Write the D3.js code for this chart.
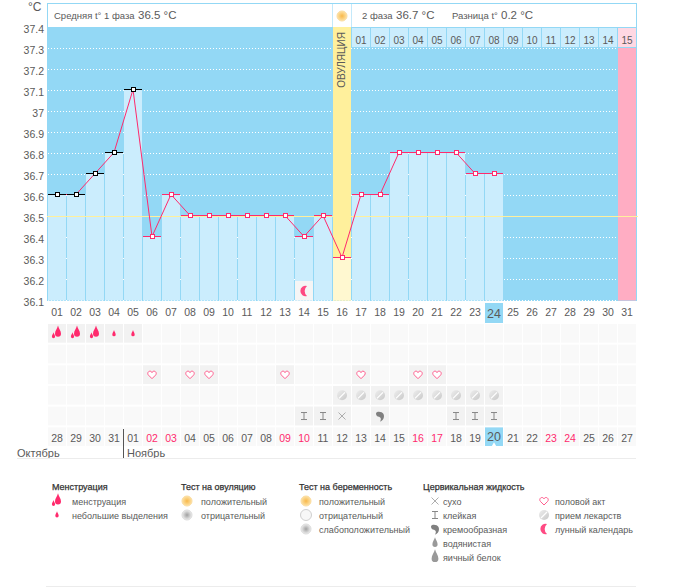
<!DOCTYPE html>
<html>
<head>
<meta charset="utf-8">
<script src="https://cdn.jsdelivr.net/npm/d3@7"></script>
<style>
  html, body { margin: 0; padding: 0; background: #fff; }
  text { font-family: "Liberation Sans", Arial, sans-serif; fill: #5a5a5a; }
</style>
</head>
<body>
<div id="chart"></div>
<script>
// chart data
const days = d3.range(1, 32);
const temps = [36.6, 36.6, 36.7, 36.8, 37.1, 36.4, 36.6, 36.5, 36.5, 36.5, 36.5, 36.5, 36.5, 36.4, 36.5, 36.3,
  36.6, 36.6, 36.8, 36.8, 36.8, 36.8, 36.7, 36.7];
const tempTicks = [37.4, 37.3, 37.2, 37.1, 37, 36.9, 36.8, 36.7, 36.6, 36.5, 36.4, 36.3, 36.2, 36.1];
const gridTicks = [37.3, 37.2, 37.1, 37, 36.9, 36.8, 36.7, 36.6, 36.4, 36.3, 36.2, 36.1];
const coverLine = 36.5;
const dateLabels = ['28', '29', '30', '31', '01', '02', '03', '04', '05', '06', '07', '08', '09', '10', '11', '12',
  '13', '14', '15', '16', '17', '18', '19', '20', '21', '22', '23', '24', '25', '26', '27'];
const weekendLabels = ['02', '03', '09', '10', '16', '17', '23', '24'];
const phaseDays = [17, 18, 19, 20, 21, 22, 23, 24, 25, 26, 27, 28, 29, 30, 31];
const phaseLabels = ['01', '02', '03', '04', '05', '06', '07', '08', '09', '10', '11', '12', '13', '14', '15'];
const blackUntil = 5, ovulationDay = 16, today = 24, moonDay = 14, periodDay = 31;

const rowNames = ['flow', 'tests', 'love', 'pills', 'fluid', 'dates'];
const heavyDays = [1, 2, 3];
const lightDays = [4, 5];
const loveDays = [6, 8, 9, 13, 17, 20, 21];
const pillDays = [16, 17, 18, 19, 20, 21, 22, 23, 24];
const stickyDays = [14, 15, 22, 23, 24];
const dryDays = [16];
const creamyDays = [18];

const colors = {
  sky: '#93d8f5', bar: '#cbedfd', pink: '#ff2a6d', period: '#ffadc3', periodTop: '#ffd8e3',
  yellow: '#fff09c', cream: '#fff8d0', cell: '#f9f9f9', cellOn: '#f2f2f2', line: '#cccccc'
};

const svg = d3.select('#chart').append('svg')
  .attr('width', 675)
  .attr('height', 587)
  .style('display', 'block');

const defs = svg.append('defs');
function radial(id, inner, outer) {
  const g = defs.append('radialGradient').attr('id', id);
  g.append('stop').attr('offset', '0%').attr('stop-color', inner);
  g.append('stop').attr('offset', '100%').attr('stop-color', outer);
}
radial('sun', '#f8b84a', '#fde3a8');
radial('grey', '#a0a0a0', '#eeeeee');
const pale = defs.append('linearGradient').attr('id', 'pale')
  .attr('x1', 0).attr('y1', 0).attr('x2', 1).attr('y2', 1);
pale.append('stop').attr('offset', '0%').attr('stop-color', '#eeeeee');
pale.append('stop').attr('offset', '100%').attr('stop-color', '#c8c8c8');

const x = d3.scaleBand().domain(days).range([48, 636]).paddingInner(1 / 19);
const y = d3.scaleLinear().domain([36.1, 37.4]).range([300.5, 27.5]);
const row = d3.scaleBand().domain(rowNames).range([324, 446]).paddingInner(0.1);
const cx = d => x(d) + x.bandwidth() / 2;
const my = v => y(v) - 1; // marks sit one pixel over the grid line

// header
svg.append('rect').attr('x', 47.5).attr('y', 3.5).attr('width', 589).attr('height', 24)
  .attr('fill', '#fff').attr('stroke', colors.sky);
svg.append('rect').attr('x', 47).attr('y', 27).attr('width', 590).attr('height', 274).attr('fill', colors.sky);
[332.5, 351.5].forEach(px => svg.append('line').attr('x1', px).attr('x2', px).attr('y1', 4).attr('y2', 27)
  .attr('stroke', '#c4e9fa'));

function headerText(px, small, bx, big) {
  svg.append('text').attr('x', px).attr('y', 19).attr('font-size', 9.5).text(small);
  svg.append('text').attr('x', bx).attr('y', 19).attr('font-size', 11.5).text(big);
}
headerText(54, 'Средняя t° 1 фаза', 138, '36.5 °C');
headerText(362, '2 фаза', 396, '36.7 °C');
headerText(452, 'Разница t°', 501, '0.2 °C');
sunIcon(svg, 342, 16);

svg.append('text').attr('x', 28).attr('y', 11).attr('font-size', 12).text('°C');

// grid
svg.append('g').selectAll('line').data(gridTicks).join('line')
  .attr('x1', 48).attr('x2', x(periodDay))
  .attr('y1', d => y(d)).attr('y2', d => y(d))
  .attr('stroke', '#fff').attr('stroke-dasharray', '1,2');

// phase cells
svg.append('g').selectAll('rect').data(phaseDays).join('rect')
  .attr('x', d => x(d)).attr('y', 28).attr('width', x.bandwidth()).attr('height', 19)
  .attr('fill', d => d === periodDay ? colors.periodTop : colors.bar);
svg.append('g').selectAll('text').data(phaseDays).join('text')
  .attr('x', d => cx(d)).attr('y', 43.5).attr('text-anchor', 'middle').attr('font-size', 10)
  .text((d, i) => phaseLabels[i]);
svg.append('rect').attr('x', x(periodDay)).attr('y', 48).attr('width', x.bandwidth()).attr('height', 252.5)
  .attr('fill', colors.period);

// bars
svg.append('rect').attr('x', x(ovulationDay)).attr('y', 27).attr('width', x.bandwidth()).attr('height', 273.5)
  .attr('fill', colors.yellow);
svg.append('g').selectAll('rect').data(temps).join('rect')
  .attr('x', (d, i) => x(days[i]))
  .attr('y', d => my(d))
  .attr('width', x.bandwidth())
  .attr('height', d => y(36.1) - my(d))
  .attr('fill', (d, i) => days[i] === ovulationDay ? colors.cream : colors.bar);

svg.append('text').attr('transform', `translate(${cx(ovulationDay) + 3},60) rotate(-90)`)
  .attr('text-anchor', 'middle').attr('font-size', 10).text('ОВУЛЯЦИЯ');

// moon cell
svg.append('rect').attr('x', x(moonDay)).attr('y', 281).attr('width', x.bandwidth()).attr('height', 19.5)
  .attr('fill', '#f5f5f5');
moonIcon(svg, cx(moonDay), 291);

// cover line
svg.append('line').attr('x1', 47).attr('x2', 638).attr('y1', y(coverLine)).attr('y2', y(coverLine))
  .attr('stroke', '#fff09c');

// temperature line and markers
svg.append('path').datum(temps)
  .attr('fill', 'none').attr('stroke', colors.pink)
  .attr('d', d3.line().x((d, i) => cx(days[i])).y(d => my(d)));
const markColor = i => days[i] <= blackUntil ? '#000' : colors.pink;
svg.append('g').selectAll('line').data(temps).join('line')
  .attr('x1', (d, i) => x(days[i])).attr('x2', (d, i) => x(days[i]) + x.bandwidth())
  .attr('y1', d => my(d)).attr('y2', d => my(d))
  .attr('stroke', (d, i) => markColor(i));
svg.append('g').selectAll('rect').data(temps).join('rect')
  .attr('x', (d, i) => Math.floor(cx(days[i])) - 2 + 0.5)
  .attr('y', d => my(d) - 2)
  .attr('width', 4).attr('height', 4)
  .attr('fill', '#fff')
  .attr('stroke', (d, i) => markColor(i));

// axes
const yAxis = svg.append('g').attr('transform', 'translate(47,0)')
  .call(d3.axisLeft(y).tickValues(tempTicks).tickSize(0).tickPadding(3).tickFormat(d => String(d)));
yAxis.select('.domain').remove();
yAxis.selectAll('text').attr('dy', '0.45em').attr('font-size', 10.5);

svg.append('rect').attr('x', x(today)).attr('y', 303).attr('width', x.bandwidth()).attr('height', 20).attr('fill', colors.sky);
const dayAxis = svg.append('g').attr('transform', 'translate(0,309)')
  .call(d3.axisBottom(x).tickSize(0).tickPadding(0).tickFormat(d => String(d).padStart(2, '0')));
dayAxis.select('.domain').remove();
dayAxis.selectAll('text').attr('font-size', d => d === today ? 12.5 : 10.5);

// rows below the chart
const rowG = svg.append('g');
rowNames.forEach(name => {
  rowG.append('g').selectAll('rect').data(days).join('rect')
    .attr('x', d => x(d)).attr('y', row(name)).attr('width', x.bandwidth()).attr('height', row.bandwidth())
    .attr('fill', colors.cell);
});
function onCells(name, list) {
  rowG.append('g').selectAll('rect').data(list).join('rect')
    .attr('x', d => x(d)).attr('y', row(name)).attr('width', x.bandwidth()).attr('height', row.bandwidth())
    .attr('fill', colors.cellOn);
}
onCells('flow', heavyDays.concat(lightDays));
onCells('love', loveDays);
onCells('pills', pillDays);
onCells('fluid', stickyDays.concat(dryDays, creamyDays));

const rowMid = name => row(name) + row.bandwidth() / 2;
heavyDays.forEach(d => heavyIcon(svg, cx(d), rowMid('flow')));
lightDays.forEach(d => dropIcon(svg, cx(d), rowMid('flow') + 0.5, 0.85, colors.pink));
loveDays.forEach(d => heartIcon(svg, cx(d), rowMid('love')));
pillDays.forEach(d => pillIcon(svg, cx(d), rowMid('pills')));
stickyDays.forEach(d => stickyIcon(svg, cx(d), rowMid('fluid')));
dryDays.forEach(d => dryIcon(svg, cx(d), rowMid('fluid')));
creamyDays.forEach(d => creamyIcon(svg, cx(d), rowMid('fluid')));

svg.append('rect').attr('x', x(today)).attr('y', row('dates')).attr('width', x.bandwidth()).attr('height', row.bandwidth())
  .attr('fill', colors.sky);
const dateAxis = svg.append('g').attr('transform', `translate(0,${row('dates') + 7})`)
  .call(d3.axisBottom(x).tickSize(0).tickPadding(0).tickFormat(d => dateLabels[d - 1]));
dateAxis.select('.domain').remove();
dateAxis.selectAll('text').attr('font-size', d => d === today ? 12.5 : 10.5)
  .attr('y', d => d === today ? -2 : 0)
  .style('fill', d => weekendLabels.includes(dateLabels[d - 1]) ? colors.pink : null);
svg.append('path').attr('d', d3.symbol(d3.symbolTriangle, 9)())
  .attr('transform', `translate(${cx(today)},445)`).attr('fill', '#fff');

// months
svg.append('line').attr('x1', 123.5).attr('x2', 123.5).attr('y1', 429).attr('y2', 458).attr('stroke', '#555');
svg.append('text').attr('x', 17).attr('y', 457).attr('font-size', 11).text('Октябрь');
svg.append('text').attr('x', 127).attr('y', 457).attr('font-size', 11).text('Ноябрь');
svg.append('line').attr('x1', 17).attr('x2', 636).attr('y1', 458.5).attr('y2', 458.5).attr('stroke', '#ececec');
svg.append('line').attr('x1', 46).attr('x2', 636).attr('y1', 586.5).attr('y2', 586.5).attr('stroke', '#ececec');

// legend
function heading(px, label) {
  svg.append('text').attr('x', px).attr('y', 490).attr('font-size', 9)
    .style('fill', '#333').style('stroke', '#333').style('stroke-width', 0.25).text(label);
}
function item(iconFn, ix, tx, py, label) {
  iconFn(svg, ix, py);
  svg.append('text').attr('x', tx).attr('y', py + 3.5).attr('font-size', 9).text(label);
}
heading(52, 'Менструация');
item(heavyIcon, 57, 72, 501, 'менструация');
item((s, a, b) => dropIcon(s, a, b, 0.85, colors.pink), 57, 72, 515, 'небольшие выделения');
heading(181, 'Тест на овуляцию');
item(sunIcon, 187, 201, 501, 'положительный');
item(greyIcon, 187, 201, 515, 'отрицательный');
heading(299, 'Тест на беременность');
item(sunIcon, 306, 319, 501, 'положительный');
item(paleIcon, 306, 319, 515, 'отрицательный');
item(greyIcon, 306, 319, 529, 'слабоположительный');
heading(423, 'Цервикальная жидкость');
item(dryIcon, 435, 443, 501, 'сухо');
item(stickyIcon, 435, 443, 515, 'клейкая');
item(creamyIcon, 435, 443, 529, 'кремообразная');
item((s, a, b) => dropIcon(s, a, b, 1.3, '#999'), 435, 443, 543, 'водянистая');
item((s, a, b) => dropIcon(s, a, b, 1.7, '#999'), 435, 443, 557, 'яичный белок');
item(heartIcon, 544, 555, 501, 'половой акт');
item(pillIcon, 544, 555, 515, 'прием лекарств');
item(moonIcon, 544, 555, 529, 'лунный календарь');

// icons
function dropIcon(s, a, b, k, fill) {
  s.append('path').attr('fill', fill)
    .attr('transform', `translate(${a},${b}) scale(${k})`)
    .attr('d', 'M0,-4.5 C0.5,-2.5 2,-1 2,1 A2,2 0 0 1 -2,1 C-2,-1 -0.5,-2.5 0,-4.5Z');
}
function heavyIcon(s, a, b) {
  dropIcon(s, a + 1, b - 1, 1.5, colors.pink);
  dropIcon(s, a - 3.5, b + 2.5, 0.8, colors.pink);
}
function heartIcon(s, a, b) {
  s.append('path').attr('fill', '#fff').attr('stroke', '#ff5c8d').attr('stroke-width', 1)
    .attr('transform', `translate(${a},${b})`)
    .attr('d', 'M0,4 L-3.5,0.5 C-5,-1 -4,-3.5 -2,-3.5 C-1,-3.5 -0.3,-3 0,-2 C0.3,-3 1,-3.5 2,-3.5 C4,-3.5 5,-1 3.5,0.5Z');
}
function pillIcon(s, a, b) {
  s.append('circle').attr('cx', a).attr('cy', b).attr('r', 5).attr('fill', 'url(#pale)');
  s.append('line').attr('x1', a - 3).attr('x2', a + 3).attr('y1', b + 3).attr('y2', b - 3)
    .attr('stroke', '#fff').attr('stroke-width', 1.2);
}
function stickyIcon(s, a, b) {
  s.append('path').attr('fill', 'none').attr('stroke', '#888')
    .attr('d', `M${a - 3},${b - 3.5}H${a + 3}M${a},${b - 3.5}V${b + 3.5}M${a - 3},${b + 3.5}H${a + 3}`);
}
function dryIcon(s, a, b) {
  s.append('path').attr('fill', 'none').attr('stroke', '#999').attr('stroke-width', 0.8)
    .attr('d', `M${a - 3.5},${b - 3.5}L${a + 3.5},${b + 3.5}M${a - 3.5},${b + 3.5}L${a + 3.5},${b - 3.5}`);
}
function creamyIcon(s, a, b) {
  s.append('path').attr('fill', '#808080')
    .attr('transform', `translate(${a},${b})`)
    .attr('d', 'M-4,-2.5 C-4,-5 2,-5 3.5,-2 C5,1 3,5 0,5.5 C1.5,3.5 1,1.5 -1,0.8 C-3,0.5 -4,-0.5 -4,-2.5Z');
}
function moonIcon(s, a, b) {
  s.append('path').attr('fill', colors.pink).attr('opacity', 0.85)
    .attr('transform', `translate(${a},${b})`)
    .attr('d', 'M3,-5 A5.2,5.2 0 1 0 3,5 A6.5,6.5 0 0 1 3,-5Z');
}
function sunIcon(s, a, b) {
  s.append('circle').attr('cx', a).attr('cy', b).attr('r', 5).attr('fill', 'url(#sun)').attr('stroke', '#fbdc9f');
}
function greyIcon(s, a, b) {
  s.append('circle').attr('cx', a).attr('cy', b).attr('r', 5).attr('fill', 'url(#grey)').attr('stroke', '#dcdcdc');
}
function paleIcon(s, a, b) {
  s.append('circle').attr('cx', a).attr('cy', b).attr('r', 5.5).attr('fill', '#f7f7f7').attr('stroke', '#cfcfcf');
}
</script>
</body>
</html>
